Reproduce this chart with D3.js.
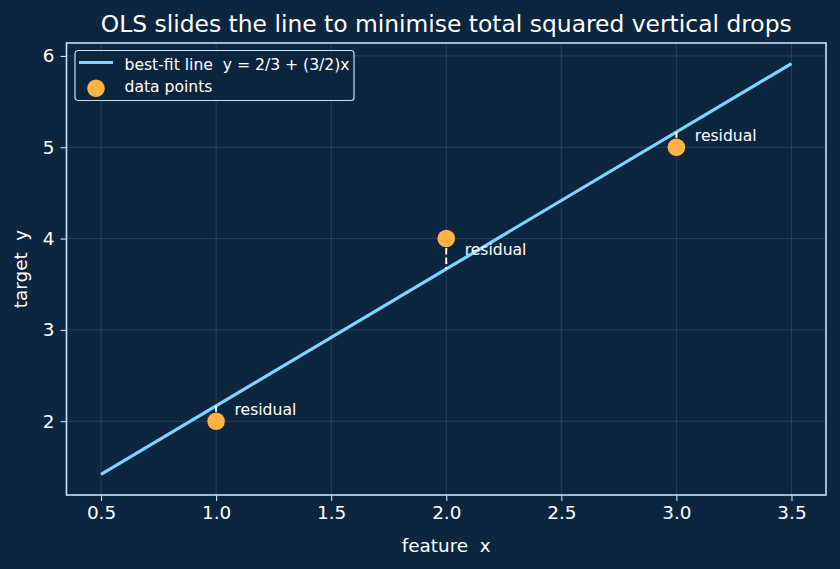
<!DOCTYPE html>
<html><head><meta charset="utf-8">
<script src="https://cdn.jsdelivr.net/npm/d3@7"></script>
<style>
html,body{margin:0;padding:0;background:#0c2640;}
svg{display:block;font-family:"DejaVu Sans",sans-serif;}
svg text{white-space:pre;}
</style></head>
<body><svg id="c" width="840" height="569"></svg>
<script>
const pointX = [1, 2, 3];
const pointY = [2, 4, 5];
const lineX = [0.5, 3.5];
const intercept = 2/3, slope = 3/2;
const xTicks = [0.5, 1.0, 1.5, 2.0, 2.5, 3.0, 3.5];
const yTicks = [2, 3, 4, 5, 6];
const titleText = "OLS slides the line to minimise total squared vertical drops";
const xLabel = "feature  x", yLabel = "target  y";
const legendLabels = ["best-fit line  y = 2/3 + (3/2)x", "data points"];
const residualLabel = "residual";

const svg = d3.select("#c");
const W = 840, H = 569;
const m = {l: 66.5, r: 14, t: 43, b: 74};
const bg = "#0c2640", fg = "#c9dff2", lineC = "#7fd3ff", ptC = "#ffb347";

svg.append("rect").attr("width", W).attr("height", H).attr("fill", bg);

const x = d3.scaleLinear().domain([0.35, 3.65]).range([m.l, W - m.r]);
const lineY = lineX.map(v => intercept + slope * v);
const yMin = Math.min(...lineY, ...pointY), yMax = Math.max(...lineY, ...pointY);
const pad = (yMax - yMin) * 0.05;
const y = d3.scaleLinear().domain([yMin - pad, yMax + pad]).range([H - m.b, m.t]);

// grid
const g = svg.append("g");
g.selectAll(".gx").data(xTicks).enter().append("line")
  .attr("x1", d => x(d)).attr("x2", d => x(d)).attr("y1", m.t).attr("y2", H - m.b)
  .attr("stroke", "#ffffff").attr("stroke-opacity", 0.13).attr("stroke-width", 0.9);
g.selectAll(".gy").data(yTicks).enter().append("line")
  .attr("y1", d => y(d)).attr("y2", d => y(d)).attr("x1", m.l).attr("x2", W - m.r)
  .attr("stroke", "#ffffff").attr("stroke-opacity", 0.13).attr("stroke-width", 0.9);

// axes
const xAxis = svg.append("g").attr("transform", `translate(0,${H - m.b})`)
  .call(d3.axisBottom(x).tickValues(xTicks).tickFormat(d3.format(".1f")).tickSize(6).tickPadding(5));
const yAxis = svg.append("g").attr("transform", `translate(${m.l},0)`)
  .call(d3.axisLeft(y).tickValues(yTicks).tickFormat(d3.format("d")).tickSize(6).tickPadding(6));
[xAxis, yAxis].forEach(a => {
  a.select(".domain").remove();
  a.selectAll("line").attr("stroke", fg).attr("stroke-width", 1.1);
  a.selectAll("text").attr("fill", "#ffffff").attr("font-size", 18.4).attr("font-family", "DejaVu Sans");
});

// fitted line
svg.append("line")
  .attr("x1", x(lineX[0])).attr("y1", y(lineY[0]))
  .attr("x2", x(lineX[1])).attr("y2", y(lineY[1]))
  .attr("stroke", lineC).attr("stroke-width", 3.2);

// residuals
const pts = pointX.map((v, i) => ({x: v, y: pointY[i], yh: intercept + slope * v}));
svg.selectAll(".res").data(pts).enter().append("line")
  .attr("x1", d => x(d.x)).attr("x2", d => x(d.x))
  .attr("y1", d => y(d.y)).attr("y2", d => y(d.yh))
  .attr("stroke", "#ffffff").attr("stroke-width", 2).attr("stroke-dasharray", "6.5,3");

// points
svg.selectAll(".pt").data(pts).enter().append("circle")
  .attr("cx", d => x(d.x)).attr("cy", d => y(d.y)).attr("r", 8.8)
  .attr("fill", ptC);

// residual labels
svg.selectAll(".rl").data(pts).enter().append("text")
  .attr("x", d => x(d.x + 0.08)).attr("y", d => y((d.y + d.yh) / 2) + 1.5)
  .attr("fill", "#ffffff").attr("font-size", 15.6).text(residualLabel);

// frame
svg.append("rect").attr("x", m.l).attr("y", m.t).attr("width", W - m.r - m.l).attr("height", H - m.b - m.t)
  .attr("fill", "none").attr("stroke", fg).attr("stroke-width", 1.6);

// title and labels
svg.append("text").attr("x", (m.l + W - m.r) / 2).attr("y", 31.5).attr("text-anchor", "middle")
  .attr("fill", "#ffffff").attr("font-size", 23.4).text(titleText);
svg.append("text").attr("x", (m.l + W - m.r) / 2).attr("y", 552).attr("text-anchor", "middle")
  .attr("fill", "#ffffff").attr("font-size", 18.4).text(xLabel);
svg.append("text").attr("transform", `translate(27,${(m.t + H - m.b) / 2}) rotate(-90)`).attr("text-anchor", "middle")
  .attr("fill", "#ffffff").attr("font-size", 18.4).text(yLabel);

// legend
const lg = svg.append("g").attr("transform", "translate(75,50.5)");
lg.append("rect").attr("width", 279).attr("height", 50).attr("rx", 3)
  .attr("fill", bg).attr("fill-opacity", 0.85).attr("stroke", fg).attr("stroke-width", 1.2);
lg.append("line").attr("x1", 4).attr("x2", 38).attr("y1", 12).attr("y2", 12)
  .attr("stroke", lineC).attr("stroke-width", 3.2);
lg.append("circle").attr("cx", 21).attr("cy", 37.8).attr("r", 8.8).attr("fill", ptC);
lg.selectAll(".lt").data(legendLabels).enter().append("text")
  .attr("x", 49.5).attr("y", (d, i) => 19.5 + i * 21.5)
  .attr("fill", "#ffffff").attr("font-size", 15.6).text(d => d);
</script></body></html>
